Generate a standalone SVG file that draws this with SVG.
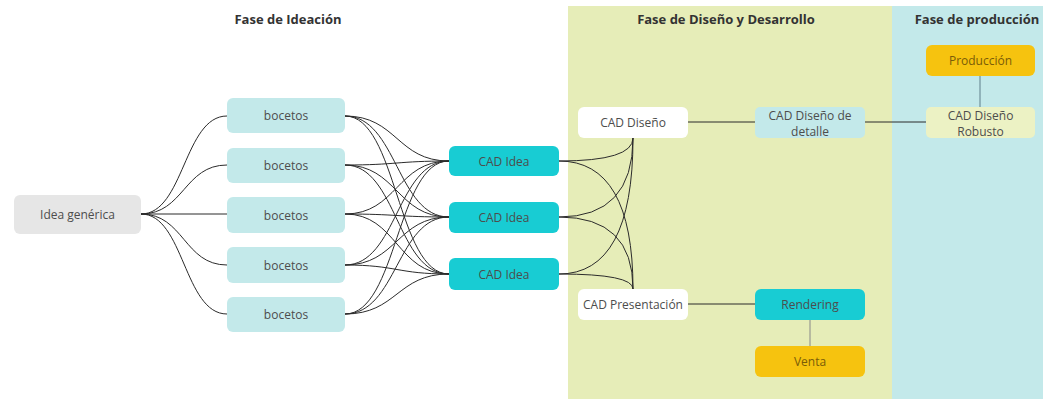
<svg xmlns="http://www.w3.org/2000/svg" width="1043" height="399" viewBox="0 0 1043 399">
<style>
text{font-family:"Open Sans","Liberation Sans",sans-serif;font-size:12px;fill:#4d4d4d;text-anchor:middle;dominant-baseline:central}
.title{font-weight:bold;font-size:13px;fill:#333}
.gray{fill:#e6e6e6}
.lb{fill:#c3e9ea}
.teal{fill:#18ccd3}
.white{fill:#ffffff}
.orange{fill:#f6c30f}
.pale{fill:#ecf2c4}
.orange+text{fill:#7a5c08}
#connectors path,#connectors line{fill:none;stroke:#2b2b2b;stroke-width:1}
</style>
<rect x="568" y="6" width="324" height="393" fill="#e6edb8"/>
<rect x="892" y="6" width="151" height="393" fill="#c3e9ea"/>
<text class="title" x="288" y="19">Fase de Ideación</text>
<text class="title" x="726" y="19">Fase de Diseño y Desarrollo</text>
<text class="title" x="977" y="19">Fase de producción</text>
<g id="connectors">
<path d="M141,214 C184,214 184,116 227,116"/>
<path d="M141,214 C184,214 184,165 227,165"/>
<path d="M141,214 L227,214"/>
<path d="M141,214 C184,214 184,265 227,265"/>
<path d="M141,214 C184,214 184,314 227,314"/>
<path d="M345,116 C397,116 397,161 449,161"/>
<path d="M345,116 C397,116 397,217 449,217"/>
<path d="M345,116 C397,116 397,274 449,274"/>
<path d="M345,165 C397,165 397,161 449,161"/>
<path d="M345,165 C397,165 397,217 449,217"/>
<path d="M345,165 C397,165 397,274 449,274"/>
<path d="M345,214 C397,214 397,161 449,161"/>
<path d="M345,214 C397,214 397,217 449,217"/>
<path d="M345,214 C397,214 397,274 449,274"/>
<path d="M345,265 C397,265 397,161 449,161"/>
<path d="M345,265 C397,265 397,217 449,217"/>
<path d="M345,265 C397,265 397,274 449,274"/>
<path d="M345,314 C397,314 397,161 449,161"/>
<path d="M345,314 C397,314 397,217 449,217"/>
<path d="M345,314 C397,314 397,274 449,274"/>
<path d="M559,161 Q633,161 633,138"/>
<path d="M559,161 Q633,161 633,289"/>
<path d="M559,217 Q633,217 633,138"/>
<path d="M559,217 Q633,217 633,289"/>
<path d="M559,274 Q633,274 633,138"/>
<path d="M559,274 Q633,274 633,289"/>
<line x1="688" y1="122" x2="755" y2="122"/>
<line x1="865" y1="122" x2="926" y2="122"/>
<line x1="980" y1="76" x2="980" y2="107" style="stroke:#5f7f8a"/>
<line x1="688" y1="304" x2="755" y2="304"/>
<line x1="810" y1="320" x2="810" y2="346" style="stroke:#888"/>
</g>
<g id="idea"><rect class="gray" x="14" y="195" width="127" height="39" rx="6"/><text x="77.5" y="214.5">Idea genérica</text></g>
<g id="bocetos1"><rect class="lb" x="227" y="98" width="118" height="35" rx="6"/><text x="286" y="115.5">bocetos</text></g>
<g id="bocetos2"><rect class="lb" x="227" y="148" width="118" height="35" rx="6"/><text x="286" y="165.5">bocetos</text></g>
<g id="bocetos3"><rect class="lb" x="227" y="197" width="118" height="36" rx="6"/><text x="286" y="215">bocetos</text></g>
<g id="bocetos4"><rect class="lb" x="227" y="247" width="118" height="36" rx="6"/><text x="286" y="265">bocetos</text></g>
<g id="bocetos5"><rect class="lb" x="227" y="297" width="118" height="35" rx="6"/><text x="286" y="314.5">bocetos</text></g>
<g id="cadidea1"><rect class="teal" x="449" y="146" width="110" height="30" rx="6"/><text x="504" y="161">CAD Idea</text></g>
<g id="cadidea2"><rect class="teal" x="449" y="202" width="110" height="31" rx="6"/><text x="504" y="217.5">CAD Idea</text></g>
<g id="cadidea3"><rect class="teal" x="449" y="258" width="110" height="32" rx="6"/><text x="504" y="274">CAD Idea</text></g>
<g id="caddiseno"><rect class="white" x="578" y="107" width="110" height="31" rx="6"/><text x="633" y="122.5">CAD Diseño</text></g>
<g id="cadpresentacion"><rect class="white" x="578" y="289" width="110" height="31" rx="6"/><text x="633" y="304.5">CAD Presentación</text></g>
<g id="caddetalle"><rect class="lb" x="755" y="107" width="110" height="31" rx="5"/><text x="810" y="115">CAD Diseño de</text><text x="810" y="131">detalle</text></g>
<g id="cadrobusto"><rect class="pale" x="926" y="107" width="109" height="31" rx="5"/><text x="980.5" y="115">CAD Diseño</text><text x="980.5" y="131">Robusto</text></g>
<g id="produccion"><rect class="orange" x="926" y="45" width="109" height="31" rx="6"/><text x="980.5" y="60.5">Producción</text></g>
<g id="rendering"><rect class="teal" x="755" y="289" width="110" height="31" rx="6"/><text x="810" y="304.5">Rendering</text></g>
<g id="venta"><rect class="orange" x="755" y="346" width="110" height="31" rx="6"/><text x="810" y="361.5">Venta</text></g>
</svg>
